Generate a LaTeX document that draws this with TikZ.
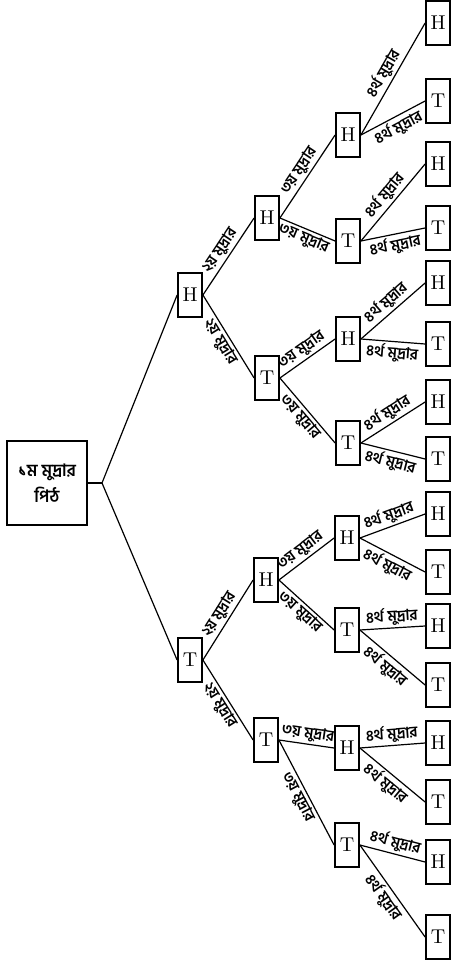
\documentclass[tikz,border=0pt]{standalone}
\usepackage{fontspec}
\newfontfamily\bnfont[Script=Bengali]{Hind Siliguri}
\usetikzlibrary{positioning}

\begin{document}
\begin{tikzpicture}[
  x=0.5pt, y=-0.5pt,
  every node/.style={font=\fontsize{10}{11}\selectfont},
  coin/.style={rectangle, draw=black, line width=0.9pt, minimum width=12pt,
               minimum height=22pt, inner sep=1pt},
  rootbox/.style={coin, align=center, minimum width=40pt, minimum height=42pt,
                  font=\bnfont\bfseries\fontsize{8.5}{13}\selectfont},
  lbl/.style={font=\bnfont\bfseries\fontsize{7.5}{9}\selectfont, sloped, inner sep=1pt},
  link/.style={draw=black, line width=0.6pt}]
\useasboundingbox (0,0) rectangle (451,962);

% root and first coin
\node[rootbox] (root) at (47,483) {১ম মুদ্রার\\পিঠ};
\coordinate (fork) at (102,483);
\node[coin] (h) at (190,295) {H};
\node[coin] (t) at (190,660) {T};

% second coin
\node[coin] (hh) at (267,218) {H};
\node[coin] (ht) at (267,378) {T};
\node[coin] (th) at (266,580) {H};
\node[coin] (tt) at (266,740) {T};

% third coin
\node[coin] (hhh) at (348,135) {H};
\node[coin] (hht) at (348,241) {T};
\node[coin] (hth) at (348,339) {H};
\node[coin] (htt) at (348,443) {T};
\node[coin] (thh) at (347,538) {H};
\node[coin] (tht) at (347,630) {T};
\node[coin] (tth) at (347,748) {H};
\node[coin] (ttt) at (347,845) {T};

% fourth coin
\node[coin] (hhhh) at (438,23) {H};
\node[coin] (hhht) at (438,101) {T};
\node[coin] (hhth) at (438,164) {H};
\node[coin] (hhtt) at (438,228) {T};
\node[coin] (hthh) at (438,283) {H};
\node[coin] (htht) at (438,344) {T};
\node[coin] (htth) at (438,402) {H};
\node[coin] (httt) at (438,459) {T};
\node[coin] (thhh) at (438,514) {H};
\node[coin] (thht) at (438,572) {T};
\node[coin] (thth) at (438,626) {H};
\node[coin] (thtt) at (438,685) {T};
\node[coin] (tthh) at (438,743) {H};
\node[coin] (ttht) at (438,802) {T};
\node[coin] (ttth) at (438,862) {H};
\node[coin] (tttt) at (438,937) {T};

\draw[link] (root.east) -- (fork);
\draw[link] (fork) -- (h.west);
\draw[link] (fork) -- (t.west);

\draw[link] (h.east) -- node[lbl, above] {২য় মুদ্রার} (hh.west);
\draw[link] (h.east) -- node[lbl, below] {২য় মুদ্রার} (ht.west);
\draw[link] (t.east) -- node[lbl, above] {২য় মুদ্রার} (th.west);
\draw[link] (t.east) -- node[lbl, below] {২য় মুদ্রার} (tt.west);

\draw[link] (hh.east) -- node[lbl, above] {৩য় মুদ্রার} (hhh.west);
\draw[link] (hh.east) -- node[lbl, below] {৩য় মুদ্রার} (hht.west);
\draw[link] (ht.east) -- node[lbl, above] {৩য় মুদ্রার} (hth.west);
\draw[link] (ht.east) -- node[lbl, below] {৩য় মুদ্রার} (htt.west);
\draw[link] (th.east) -- node[lbl, above] {৩য় মুদ্রার} (thh.west);
\draw[link] (th.east) -- node[lbl, below] {৩য় মুদ্রার} (tht.west);
\draw[link] (tt.east) -- node[lbl, above] {৩য় মুদ্রার} (tth.west);
\draw[link] (tt.east) -- node[lbl, below] {৩য় মুদ্রার} (ttt.west);

\draw[link] (hhh.east) -- node[lbl, above] {৪র্থ মুদ্রার} (hhhh.west);
\draw[link] (hhh.east) -- node[lbl, below] {৪র্থ মুদ্রার} (hhht.west);
\draw[link] (hht.east) -- node[lbl, above] {৪র্থ মুদ্রার} (hhth.west);
\draw[link] (hht.east) -- node[lbl, below] {৪র্থ মুদ্রার} (hhtt.west);
\draw[link] (hth.east) -- node[lbl, above] {৪র্থ মুদ্রার} (hthh.west);
\draw[link] (hth.east) -- node[lbl, below] {৪র্থ মুদ্রার} (htht.west);
\draw[link] (htt.east) -- node[lbl, above] {৪র্থ মুদ্রার} (htth.west);
\draw[link] (htt.east) -- node[lbl, below] {৪র্থ মুদ্রার} (httt.west);
\draw[link] (thh.east) -- node[lbl, above] {৪র্থ মুদ্রার} (thhh.west);
\draw[link] (thh.east) -- node[lbl, below] {৪র্থ মুদ্রার} (thht.west);
\draw[link] (tht.east) -- node[lbl, above] {৪র্থ মুদ্রার} (thth.west);
\draw[link] (tht.east) -- node[lbl, below] {৪র্থ মুদ্রার} (thtt.west);
\draw[link] (tth.east) -- node[lbl, above] {৪র্থ মুদ্রার} (tthh.west);
\draw[link] (tth.east) -- node[lbl, below] {৪র্থ মুদ্রার} (ttht.west);
\draw[link] (ttt.east) -- node[lbl, above] {৪র্থ মুদ্রার} (ttth.west);
\draw[link] (ttt.east) -- node[lbl, below] {৪র্থ মুদ্রার} (tttt.west);
\end{tikzpicture}
\end{document}
